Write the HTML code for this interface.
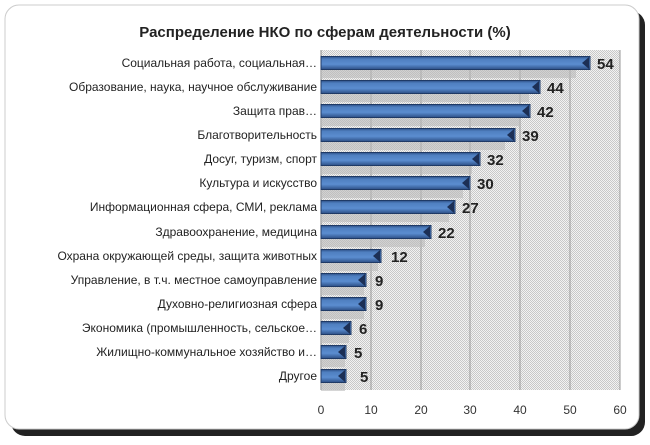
<!DOCTYPE html>
<html><head><meta charset="utf-8"><style>
html,body{margin:0;padding:0;background:#fff;}
svg text{font-family:"Liberation Sans","DejaVu Sans",sans-serif;}
</style></head><body>
<svg width="650" height="440" xmlns="http://www.w3.org/2000/svg">
<defs>
<pattern id="dots" width="2" height="2" patternUnits="userSpaceOnUse">
<rect width="2" height="2" fill="#f2f2f2"/><rect width="1" height="1" fill="#c8c8c8"/><rect x="1" y="1" width="1" height="1" fill="#c8c8c8"/>
</pattern>
<linearGradient id="bar" x1="0" y1="0" x2="0" y2="1">
<stop offset="0" stop-color="#2d4f86"/><stop offset="0.2" stop-color="#4f7fc0"/><stop offset="0.6" stop-color="#5b8dd0"/><stop offset="1" stop-color="#2d4f86"/>
</linearGradient>
</defs>
<rect x="11" y="11" width="634" height="425" rx="14" fill="#222"/>
<rect x="5" y="5" width="634" height="424" rx="14" fill="#fff" stroke="#ccc" stroke-width="1"/>
<text x="325" y="37" text-anchor="middle" font-size="15" font-weight="bold" fill="#222">Распределение  НКО по  сферам  деятельности (%)</text>
<rect x="321" y="50" width="299" height="340" fill="url(#dots)"/>
<g stroke="#999" stroke-width="1">
<line x1="371" y1="50" x2="371" y2="390"/><line x1="421" y1="50" x2="421" y2="390"/>
<line x1="470" y1="50" x2="470" y2="390"/><line x1="520" y1="50" x2="520" y2="390"/>
<line x1="570" y1="50" x2="570" y2="390"/><line x1="620" y1="50" x2="620" y2="390"/>
<line x1="321" y1="50" x2="321" y2="390" stroke="#888"/>
</g>
<g font-size="12" fill="#333" text-anchor="middle">
<text x="321" y="414">0</text><text x="371" y="414">10</text><text x="421" y="414">20</text><text x="470" y="414">30</text><text x="520" y="414">40</text><text x="570" y="414">50</text><text x="620" y="414">60</text>
</g>

<g transform="translate(0,63)"><rect x="321" y="2" width="255" height="13" fill="#bbb" opacity="0.6"/><rect x="321" y="-6.5" width="269" height="13" fill="url(#bar)" stroke="#1f3a66"/><polygon points="589,-6 582,0 589,6" fill="#1c2f55"/><text x="317" y="4" font-size="12" fill="#222" text-anchor="end">Социальная работа, социальная…</text><text x="597" y="6" font-size="15" font-weight="bold" fill="#222">54</text></g>
<g transform="translate(0,87)"><rect x="321" y="2" width="208" height="13" fill="#bbb" opacity="0.6"/><rect x="321" y="-6.5" width="219" height="13" fill="url(#bar)" stroke="#1f3a66"/><polygon points="539,-6 532,0 539,6" fill="#1c2f55"/><text x="317" y="4" font-size="12" fill="#222" text-anchor="end">Образование, наука, научное обслуживание</text><text x="547" y="6" font-size="15" font-weight="bold" fill="#222">44</text></g>
<g transform="translate(0,111)"><rect x="321" y="2" width="199" height="13" fill="#bbb" opacity="0.6"/><rect x="321" y="-6.5" width="209" height="13" fill="url(#bar)" stroke="#1f3a66"/><polygon points="529,-6 522,0 529,6" fill="#1c2f55"/><text x="317" y="4" font-size="12" fill="#222" text-anchor="end">Защита прав…</text><text x="537" y="6" font-size="15" font-weight="bold" fill="#222">42</text></g>
<g transform="translate(0,135)"><rect x="321" y="2" width="184" height="13" fill="#bbb" opacity="0.6"/><rect x="321" y="-6.5" width="194" height="13" fill="url(#bar)" stroke="#1f3a66"/><polygon points="514,-6 507,0 514,6" fill="#1c2f55"/><text x="317" y="4" font-size="12" fill="#222" text-anchor="end">Благотворительность</text><text x="522" y="6" font-size="15" font-weight="bold" fill="#222">39</text></g>
<g transform="translate(0,159)"><rect x="321" y="2" width="151" height="13" fill="#bbb" opacity="0.6"/><rect x="321" y="-6.5" width="159" height="13" fill="url(#bar)" stroke="#1f3a66"/><polygon points="479,-6 472,0 479,6" fill="#1c2f55"/><text x="317" y="4" font-size="12" fill="#222" text-anchor="end">Досуг, туризм, спорт</text><text x="487" y="6" font-size="15" font-weight="bold" fill="#222">32</text></g>
<g transform="translate(0,183)"><rect x="321" y="2" width="142" height="13" fill="#bbb" opacity="0.6"/><rect x="321" y="-6.5" width="149" height="13" fill="url(#bar)" stroke="#1f3a66"/><polygon points="469,-6 462,0 469,6" fill="#1c2f55"/><text x="317" y="4" font-size="12" fill="#222" text-anchor="end">Культура и искусство</text><text x="477" y="6" font-size="15" font-weight="bold" fill="#222">30</text></g>
<g transform="translate(0,207)"><rect x="321" y="2" width="128" height="13" fill="#bbb" opacity="0.6"/><rect x="321" y="-6.5" width="134" height="13" fill="url(#bar)" stroke="#1f3a66"/><polygon points="454,-6 447,0 454,6" fill="#1c2f55"/><text x="317" y="4" font-size="12" fill="#222" text-anchor="end">Информационная сфера, СМИ, реклама</text><text x="462" y="6" font-size="15" font-weight="bold" fill="#222">27</text></g>
<g transform="translate(0,232)"><rect x="321" y="2" width="104" height="13" fill="#bbb" opacity="0.6"/><rect x="321" y="-6.5" width="110" height="13" fill="url(#bar)" stroke="#1f3a66"/><polygon points="430,-6 423,0 430,6" fill="#1c2f55"/><text x="317" y="4" font-size="12" fill="#222" text-anchor="end">Здравоохранение, медицина</text><text x="438" y="6" font-size="15" font-weight="bold" fill="#222">22</text></g>
<g transform="translate(0,256)"><rect x="321" y="2" width="57" height="13" fill="#bbb" opacity="0.6"/><rect x="321" y="-6.5" width="60" height="13" fill="url(#bar)" stroke="#1f3a66"/><polygon points="380,-6 373,0 380,6" fill="#1c2f55"/><text x="317" y="4" font-size="12" fill="#222" text-anchor="end">Охрана окружающей среды, защита животных</text><text x="391" y="6" font-size="15" font-weight="bold" fill="#222">12</text></g>
<g transform="translate(0,280)"><rect x="321" y="2" width="43" height="13" fill="#bbb" opacity="0.6"/><rect x="321" y="-6.5" width="45" height="13" fill="url(#bar)" stroke="#1f3a66"/><polygon points="365,-6 358,0 365,6" fill="#1c2f55"/><text x="317" y="4" font-size="12" fill="#222" text-anchor="end">Управление, в т.ч. местное самоуправление</text><text x="375" y="6" font-size="15" font-weight="bold" fill="#222">9</text></g>
<g transform="translate(0,304)"><rect x="321" y="2" width="43" height="13" fill="#bbb" opacity="0.6"/><rect x="321" y="-6.5" width="45" height="13" fill="url(#bar)" stroke="#1f3a66"/><polygon points="365,-6 358,0 365,6" fill="#1c2f55"/><text x="317" y="4" font-size="12" fill="#222" text-anchor="end">Духовно-религиозная сфера</text><text x="375" y="6" font-size="15" font-weight="bold" fill="#222">9</text></g>
<g transform="translate(0,328)"><rect x="321" y="2" width="28" height="13" fill="#bbb" opacity="0.6"/><rect x="321" y="-6.5" width="30" height="13" fill="url(#bar)" stroke="#1f3a66"/><polygon points="350,-6 343,0 350,6" fill="#1c2f55"/><text x="317" y="4" font-size="12" fill="#222" text-anchor="end">Экономика (промышленность, сельское…</text><text x="359" y="6" font-size="15" font-weight="bold" fill="#222">6</text></g>
<g transform="translate(0,352)"><rect x="321" y="2" width="24" height="13" fill="#bbb" opacity="0.6"/><rect x="321" y="-6.5" width="25" height="13" fill="url(#bar)" stroke="#1f3a66"/><polygon points="345,-6 338,0 345,6" fill="#1c2f55"/><text x="317" y="4" font-size="12" fill="#222" text-anchor="end">Жилищно-коммунальное хозяйство и…</text><text x="354" y="6" font-size="15" font-weight="bold" fill="#222">5</text></g>
<g transform="translate(0,376)"><rect x="321" y="2" width="24" height="13" fill="#bbb" opacity="0.6"/><rect x="321" y="-6.5" width="25" height="13" fill="url(#bar)" stroke="#1f3a66"/><polygon points="345,-6 338,0 345,6" fill="#1c2f55"/><text x="317" y="4" font-size="12" fill="#222" text-anchor="end">Другое</text><text x="360" y="6" font-size="15" font-weight="bold" fill="#222">5</text></g>
</svg>
</body></html>
